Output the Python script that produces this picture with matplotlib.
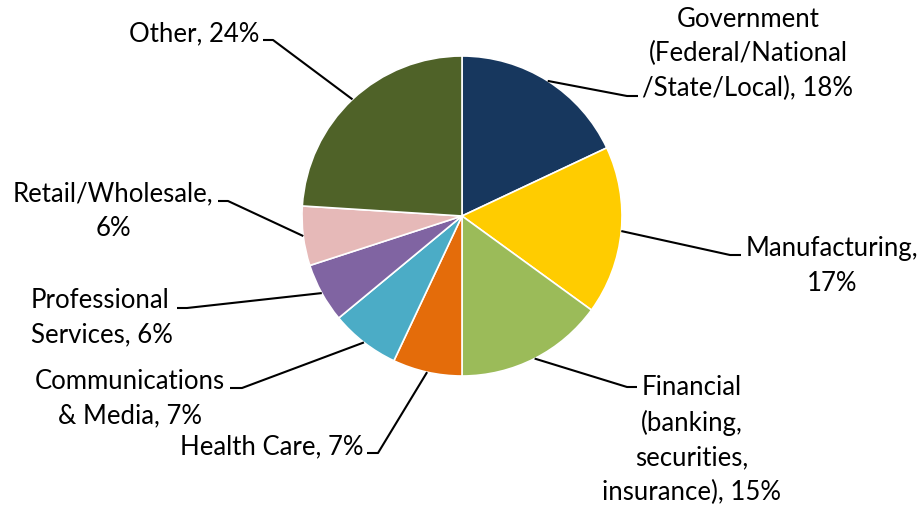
import matplotlib.pyplot as plt
import numpy as np

plt.rcParams['font.family'] = ['Lato', 'DejaVu Sans']

sectors = ["Government\n(Federal/National\n/State/Local)", "Manufacturing", "Financial\n(banking,\nsecurities,\ninsurance)",
           "Health Care", "Communications\n& Media", "Professional\nServices", "Retail/Wholesale", "Other"]
shares = [18, 17, 15, 7, 7, 6, 6, 24]
colors = ["#17375E", "#FFCC00", "#9BBB59", "#E46C0A", "#4BACC6", "#8064A2", "#E6B9B8", "#4F6228"]

# label text with line breaks as they appear next to each slice
label_texts = [
    "Government\n(Federal/National\n/State/Local), 18%",
    "Manufacturing,\n17%",
    "Financial\n(banking,\nsecurities,\ninsurance), 15%",
    "Health Care, 7%",
    "Communications\n& Media, 7%",
    "Professional\nServices, 6%",
    "Retail/Wholesale,\n6%",
    "Other, 24%",
]

W, H = 923, 506
cx, cy, R = 462, 217, 160


def to_data(px, py):
    return (px - cx) / R, (cy - py) / R


fig = plt.figure(figsize=(W / 100, H / 100), dpi=100)
ax = fig.add_axes([0, 0, 1, 1])

wedges, _ = ax.pie(shares, colors=colors, startangle=90, counterclock=False,
                   radius=1, center=(0, 0),
                   wedgeprops=dict(edgecolor='white', linewidth=1.2))

ax.set_xlim(-cx / R, (W - cx) / R)
ax.set_ylim((cy - H) / R, cy / R)
ax.set_aspect('equal')
ax.axis('off')

# elbow point, end point, text centre (pixels) and alignment for each label
layout = [
    ((627, 97), (638, 97), (748, 54), 'center'),
    ((730, 256), (741, 256), (832, 266), 'center'),
    ((627, 388), (637, 388), (692, 440), 'center'),
    ((378, 454), (367, 454), (272, 447), 'center'),
    ((242, 389), (230, 389), (130, 399), 'center'),
    ((187, 309), (177, 309), (102, 318), 'left'),
    ((228, 202), (218, 202), (113, 211), 'center'),
    ((273, 41), (263, 41), (194, 34), 'center'),
]

for w, txt, (elbow, end, tc, ma) in zip(wedges, label_texts, layout):
    mid = np.deg2rad((w.theta1 + w.theta2) / 2)
    start = (np.cos(mid), np.sin(mid))
    ex, ey = to_data(*elbow)
    nx, ny = to_data(*end)
    ax.plot([start[0], ex, nx], [start[1], ey, ny], color='black', lw=1.5,
            solid_capstyle='butt')
    tx, ty = to_data(*tc)
    ax.text(tx, ty, txt, ha='center', va='center', multialignment=ma,
            fontsize=18.5, linespacing=1.48, color='black')

fig.savefig("out.png", dpi=100)
